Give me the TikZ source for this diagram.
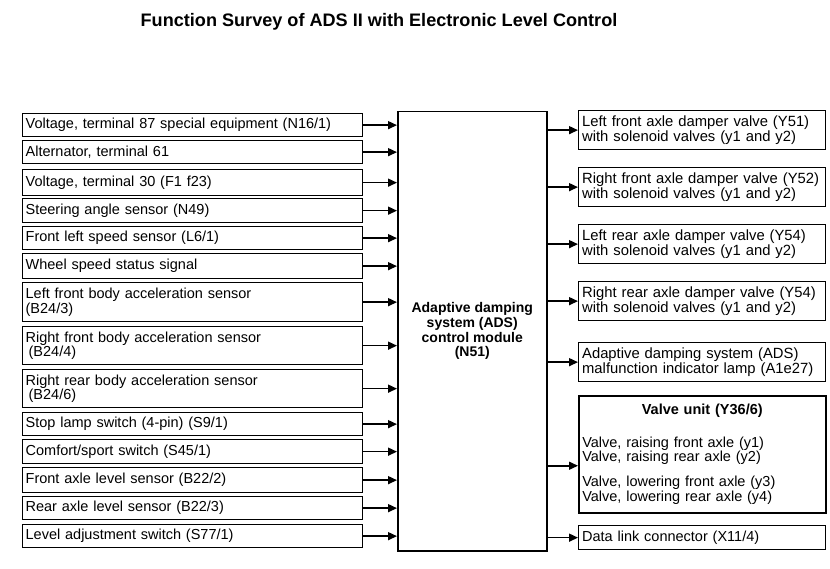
\documentclass[tikz,border=0pt]{standalone}
\usepackage{fontspec}
\setmainfont{Liberation Sans}
\usetikzlibrary{arrows.meta}
\begin{document}
\begin{tikzpicture}[x=1pt,y=1pt,
  box/.style={draw, line width=1.3pt, rectangle, anchor=north west, inner xsep=3.5pt, inner ysep=0pt, align=left, font=\fontsize{14.5}{13.5}\selectfont},
  lbox/.style={box, text width=333pt},
  rbox/.style={box, text width=240pt, font=\fontsize{14.8}{13.2}\selectfont},
  arr/.style={line width=1.5pt, -{Triangle[length=9pt,width=8pt]}}]
\useasboundingbox (0,0) rectangle (830,-569);
\node[font=\fontsize{18.1}{20}\selectfont\bfseries, anchor=base] (title) at (379,-27) {Function Survey of ADS II with Electronic Level Control};

\node[draw, line width=1.5pt, anchor=north west, minimum width=149pt, minimum height=439pt, align=center, font=\fontsize{14}{14.7}\selectfont\bfseries] (cm) at (397,-111) {Adaptive damping\\system (ADS)\\control module\\(N51)};

\node[lbox, minimum height=23pt] (L1) at (21.5,-113) {Voltage, terminal 87 special equipment (N16/1)};
\node[lbox, minimum height=23pt] (L2) at (21.5,-140) {Alternator, terminal 61};
\node[lbox, minimum height=26pt] (L3) at (21.5,-169) {Voltage, terminal 30 (F1 f23)};
\node[lbox, minimum height=24pt] (L4) at (21.5,-198) {Steering angle sensor (N49)};
\node[lbox, minimum height=23pt] (L5) at (21.5,-226) {Front left speed sensor (L6/1)};
\node[lbox, minimum height=25pt] (L6) at (21.5,-253) {Wheel speed status signal};
\node[lbox, minimum height=39pt] (L7) at (21.5,-282) {Left front body acceleration sensor\\(B24/3)};
\node[lbox, minimum height=38pt] (L8) at (21.5,-326) {Right front body acceleration sensor\\\hspace*{3pt}(B24/4)};
\node[lbox, minimum height=38pt] (L9) at (21.5,-369) {Right rear body acceleration sensor\\\hspace*{3pt}(B24/6)};
\node[lbox, minimum height=23pt] (L10) at (21.5,-412) {Stop lamp switch (4-pin) (S9/1)};
\node[lbox, minimum height=24pt] (L11) at (21.5,-439) {Comfort/sport switch (S45/1)};
\node[lbox, minimum height=25pt] (L12) at (21.5,-467) {Front axle level sensor (B22/2)};
\node[lbox, minimum height=23pt] (L13) at (21.5,-496) {Rear axle level sensor (B22/3)};
\node[lbox, minimum height=23pt] (L14) at (21.5,-524) {Level adjustment switch (S77/1)};

\foreach \i in {1,...,14} {\draw[arr] (L\i.east) -- (L\i.east -| cm.west);}

\node[rbox, minimum height=39pt] (R1) at (578,-110) {Left front axle damper valve (Y51)\\with solenoid valves (y1 and y2)};
\node[rbox, minimum height=39pt] (R2) at (578,-167) {Right front axle damper valve (Y52)\\with solenoid valves (y1 and y2)};
\node[rbox, minimum height=39pt] (R3) at (578,-224) {Left rear axle damper valve (Y54)\\with solenoid valves (y1 and y2)};
\node[rbox, minimum height=39pt] (R4) at (578,-281) {Right rear axle damper valve (Y54)\\with solenoid valves (y1 and y2)};
\node[rbox, minimum height=39pt] (R5) at (578,-342) {Adaptive damping system (ADS)\\malfunction indicator lamp (A1e27)};
\node[rbox, minimum height=117pt, line width=1.5pt, font=\fontsize{14.5}{12.8}\selectfont] (R6) at (578,-395) {\makebox[\linewidth]{\bfseries Valve unit (Y36/6)}\\[18pt]Valve, raising front axle (y1)\\Valve, raising rear axle (y2)\\[10pt]Valve, lowering front axle (y3)\\Valve, lowering rear axle (y4)};
\node[rbox, minimum height=24pt, font=\fontsize{14.5}{13.5}\selectfont] (R7) at (578,-525) {Data link connector (X11/4)};

\foreach \i in {1,2,3,4,5,7} {\draw[arr] (R\i.west -| cm.east) -- (R\i.west);}
\coordinate (r6in) at ([yshift=-11.5pt]R6.west);
\draw[arr] (r6in -| cm.east) -- (r6in);
\end{tikzpicture}
\end{document}
